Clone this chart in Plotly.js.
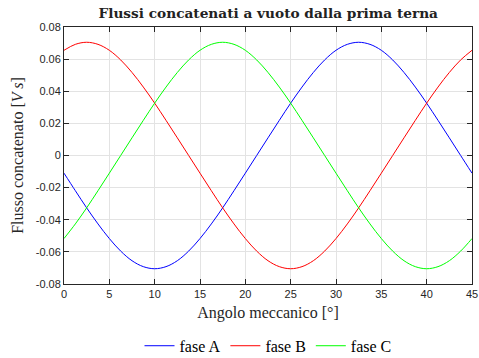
<!DOCTYPE html>
<html>
<head>
<meta charset="utf-8">
<script src="https://cdn.plot.ly/plotly-3.0.1.min.js"></script>
<style>html,body{margin:0;padding:0;background:#fff;}#chart{width:479px;height:358px;}</style>
</head>
<body>
<div id="chart"></div>
<script>
const angle = [0,1.25,2.5,3.75,5,6.25,7.5,8.75,10,11.25,12.5,13.75,15,16.25,17.5,18.75,20,21.25,22.5,23.75,25,26.25,27.5,28.75,30,31.25,32.5,33.75,35,36.25,37.5,38.75,40,41.25,42.5,43.75,45];
const faseA = [-0.0110,-0.0219,-0.0326,-0.0426,-0.0517,-0.0595,-0.0655,-0.0692,-0.0705,-0.0692,-0.0655,-0.0595,-0.0517,-0.0426,-0.0326,-0.0219,-0.0110,0,0.0110,0.0219,0.0326,0.0426,0.0517,0.0595,0.0655,0.0692,0.0705,0.0692,0.0655,0.0595,0.0517,0.0426,0.0326,0.0219,0.0110,0,-0.0110];
const faseB = [0.0655,0.0692,0.0705,0.0692,0.0655,0.0595,0.0517,0.0426,0.0326,0.0219,0.0110,0,-0.0110,-0.0219,-0.0326,-0.0426,-0.0517,-0.0595,-0.0655,-0.0692,-0.0705,-0.0692,-0.0655,-0.0595,-0.0517,-0.0426,-0.0326,-0.0219,-0.0110,0,0.0110,0.0219,0.0326,0.0426,0.0517,0.0595,0.0655];
const faseC = [-0.0517,-0.0426,-0.0326,-0.0219,-0.0110,0,0.0110,0.0219,0.0326,0.0426,0.0517,0.0595,0.0655,0.0692,0.0705,0.0692,0.0655,0.0595,0.0517,0.0426,0.0326,0.0219,0.0110,0,-0.0110,-0.0219,-0.0326,-0.0426,-0.0517,-0.0595,-0.0655,-0.0692,-0.0705,-0.0692,-0.0655,-0.0595,-0.0517];
const seriesNames = ['fase A','fase B','fase C'];
const xTickVals = [0,5,10,15,20,25,30,35,40,45];
const yTickVals = [-0.08,-0.06,-0.04,-0.02,0,0.02,0.04,0.06,0.08];
const yTickText = ['-0.08','-0.06','-0.04','-0.02','0','0.02','0.04','0.06','0.08'];

const colors = ['#0000ff','#ff0000','#00ff00'];
const ys = [faseA, faseB, faseC];
const traces = ys.map((y,i)=>({
  x: angle, y: y, type:'scatter', mode:'lines', name: seriesNames[i],
  line:{color:colors[i], width:1, shape:'spline'}
}));
const axisCommon = {
  showline:true, linecolor:'#262626', linewidth:1, mirror:'ticks',
  ticks:'inside', ticklen:5, tickcolor:'#262626', tickwidth:1,
  showgrid:true, gridcolor:'#e3e3e3', gridwidth:1, zeroline:false, automargin:false,
  tickfont:{family:'Liberation Sans, Arial, sans-serif', size:11, color:'#262626'}
};
const layout = {
  width:479, height:358,
  margin:{l:64, r:7, t:27, b:74, autoexpand:false},
  paper_bgcolor:'#ffffff', plot_bgcolor:'#ffffff',
  title:{text:'<b>Flussi concatenati a vuoto dalla prima terna</b>', x:0.56, xanchor:'center', y:0.963, yanchor:'middle',
    font:{family:'DejaVu Serif, serif', size:13.7, color:'#222'}},
  xaxis: Object.assign({}, axisCommon, {range:[0,45], tickvals:xTickVals,
    title:{text:'Angolo meccanico [°]', standoff:7, font:{family:'Liberation Serif, serif', size:16, color:'#262626'}}}),
  yaxis: Object.assign({}, axisCommon, {range:[-0.08,0.08], tickvals:yTickVals, ticktext:yTickText,
    title:{text:'Flusso concatenato [<i>V s</i>]', standoff:8, font:{family:'Liberation Serif, serif', size:16, color:'#262626'}}}),
  showlegend:true,
  legend:{orientation:'h', x:0.5, xanchor:'center', yref:'container', y:0.034, yanchor:'middle',
    font:{family:'Liberation Serif, serif', size:16, color:'#000'}, bgcolor:'rgba(0,0,0,0)'}
};
Plotly.newPlot('chart', traces, layout, {displayModeBar:false, staticPlot:true});
</script>
</body>
</html>
